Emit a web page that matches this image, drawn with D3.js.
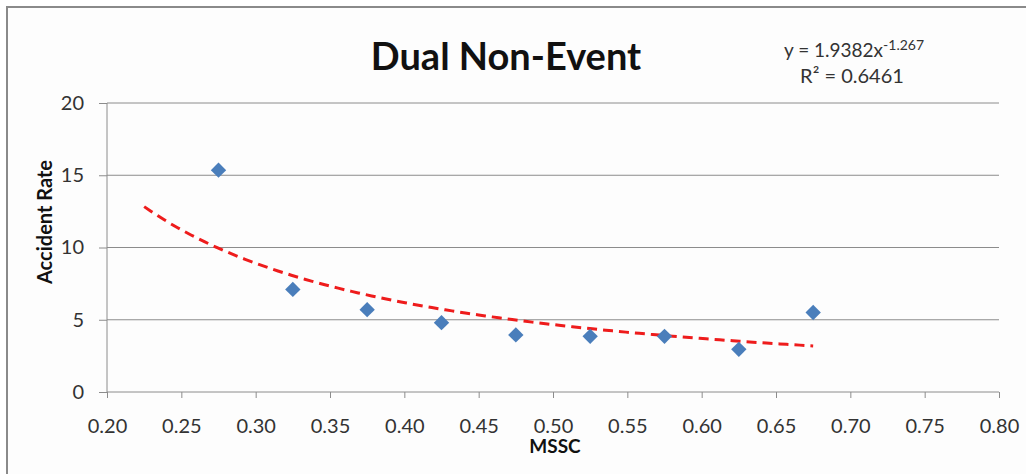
<!DOCTYPE html>
<html>
<head>
<meta charset="utf-8">
<script src="https://cdn.jsdelivr.net/npm/d3@7"></script>
<style>
  body { margin: 0; background: #fff; }
  svg { display: block; font-family: Lato, "Open Sans", sans-serif; }
</style>
</head>
<body>
<script>
// MSSC bins and observed accident rates
var mssc = [0.275, 0.325, 0.375, 0.425, 0.475, 0.525, 0.575, 0.625, 0.675]
var accidentRate = [15.35, 7.1, 5.7, 4.8, 3.95, 3.85, 3.85, 2.95, 5.5]

// power trendline as reported on the chart
var trendA = 1.9382, trendB = -1.267, trendR2 = 0.6461
var trendFrom = 0.225, trendTo = 0.675

var xTicks = [0.20, 0.25, 0.30, 0.35, 0.40, 0.45, 0.50, 0.55, 0.60, 0.65, 0.70, 0.75, 0.80]
var yTicks = [0, 5, 10, 15, 20]

function main() {
    var svgWidth = 1026, svgHeight = 474
    var svg = d3.select('body').append('svg')
        .attr('width', svgWidth).attr('height', svgHeight)

    // chart frame
    svg.append('rect').attr('x', 7).attr('y', 7)
        .attr('width', svgWidth + 10).attr('height', svgHeight + 10)
        .attr('fill', '#fdfdfd').attr('stroke', '#8a8a8a').attr('stroke-width', 2)

    var plotLeft = 107, plotRight = 999, plotTop = 103, plotBottom = 392
    var x = d3.scaleLinear().domain([0.2, 0.8]).range([plotLeft, plotRight])
    var y = d3.scaleLinear().domain([0, 20]).range([plotBottom, plotTop])

    // gridlines
    svg.append('g').selectAll('line').data(yTicks.slice(1)).enter().append('line')
        .attr('x1', plotLeft).attr('x2', plotRight)
        .attr('y1', d => y(d)).attr('y2', d => y(d))
        .attr('stroke', '#8c8c8c').attr('stroke-width', 1)

    // axes
    var xAxis = svg.append('g').attr('transform', `translate(0, ${plotBottom})`)
        .call(d3.axisBottom(x).tickValues(xTicks).tickFormat(d3.format('.2f')).tickSize(6).tickPadding(21))
    var yAxis = svg.append('g').attr('transform', `translate(${plotLeft}, 0)`)
        .call(d3.axisLeft(y).tickValues(yTicks).tickSize(8).tickPadding(15))
    ;[xAxis, yAxis].forEach(function(a) {
        a.select('.domain').attr('stroke', '#8c8c8c')
        a.selectAll('.tick line').attr('stroke', '#8c8c8c')
        a.selectAll('.tick text').attr('fill', '#333').attr('font-size', '20px')
            .attr('font-family', 'Lato, sans-serif')
    })
    xAxis.select('.domain').attr('d', `M${plotLeft},0H${plotRight}`)
    yAxis.select('.domain').attr('d', `M0,${plotTop}V${plotBottom}`)

    // trendline
    var trendPts = d3.range(0, 101).map(function(i) {
        var xv = trendFrom + (trendTo - trendFrom) * i / 100
        return [xv, trendA * Math.pow(xv, trendB)]
    })
    svg.append('path').datum(trendPts)
        .attr('d', d3.line().x(d => x(d[0])).y(d => y(d[1])))
        .attr('fill', 'none').attr('stroke', '#ee1c1c').attr('stroke-width', 3)
        .attr('stroke-dasharray', '10,6')

    // diamonds
    svg.append('g').selectAll('path').data(mssc).enter().append('path')
        .attr('d', d3.symbol().type(d3.symbolSquare).size(118))
        .attr('transform', (d, i) => `translate(${x(d)},${y(accidentRate[i])}) rotate(45)`)
        .attr('fill', '#4a7ebb')

    // title
    svg.append('text').attr('x', 506).attr('y', 70).attr('text-anchor', 'middle')
        .attr('font-size', '38px').attr('font-weight', 'bold').attr('fill', '#111')
        .text('Dual Non-Event')

    // equation
    var eq = svg.append('text').attr('x', 854).attr('y', 57).attr('text-anchor', 'middle')
        .attr('font-size', '19px').attr('fill', '#333')
    eq.append('tspan').text('y = ' + trendA + 'x')
    eq.append('tspan').attr('dy', -7).attr('font-size', '14px').text(trendB)
    svg.append('text').attr('x', 852).attr('y', 83).attr('text-anchor', 'middle')
        .attr('font-size', '20px').attr('fill', '#333')
        .text('R² = ' + trendR2)

    // axis titles
    svg.append('text').attr('x', 555).attr('y', 453).attr('text-anchor', 'middle')
        .attr('font-size', '19px').attr('font-weight', 'bold').attr('fill', '#111')
        .text('MSSC')
    svg.append('text').attr('transform', 'translate(52, 222) rotate(-90)')
        .attr('text-anchor', 'middle')
        .attr('font-size', '20px').attr('font-weight', 'bold').attr('fill', '#111')
        .text('Accident Rate')
}
main()
</script>
</body>
</html>
